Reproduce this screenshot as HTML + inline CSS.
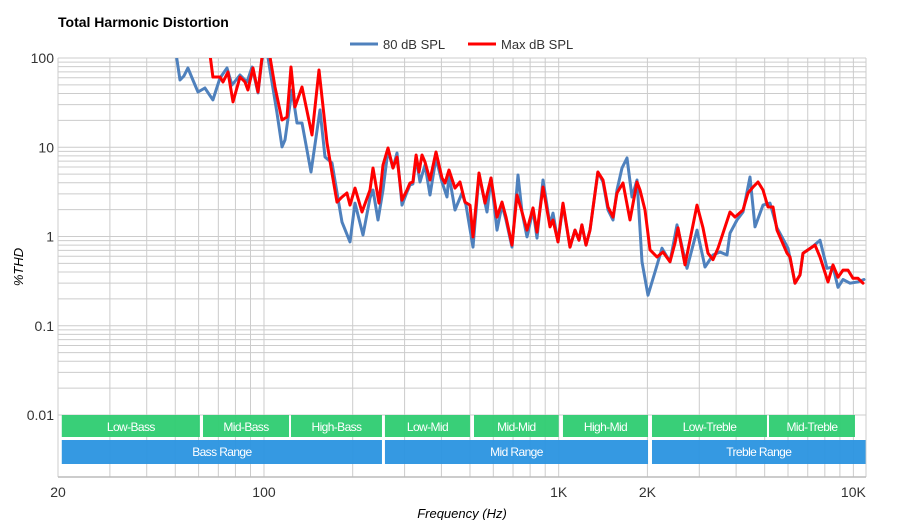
<!DOCTYPE html>
<html><head><meta charset="utf-8"><style>
html,body{margin:0;padding:0;background:#fff;}
svg{display:block;font-family:"Liberation Sans",sans-serif;}
</style></head><body>
<svg id="chart" width="900" height="520" viewBox="0 0 900 520">
<defs><clipPath id="plotclip"><rect x="58" y="58" width="808" height="419"/></clipPath></defs>
<text x="58" y="27" font-size="14" font-weight="bold" fill="#000">Total Harmonic Distortion</text>
<g>
<g><line x1="350" y1="44" x2="378" y2="44" stroke="#4f81bd" stroke-width="3"/><text x="383" y="49" font-size="13" fill="#333">80 dB SPL</text></g>
<g><line x1="468" y1="44" x2="496" y2="44" stroke="#ff0000" stroke-width="3"/><text x="501" y="49" font-size="13" fill="#333">Max dB SPL</text></g>
</g>
<g id="grid"></g>
<g id="bands"></g>
<g id="yticks"></g>
<g id="xticks"></g>
<g id="series" clip-path="url(#plotclip)"></g>
<text x="0" y="0" transform="translate(23,267) rotate(-90)" text-anchor="middle" font-size="13" font-style="italic" fill="#000">%THD</text>
<text x="462" y="518" text-anchor="middle" font-size="13" font-style="italic" fill="#000">Frequency (Hz)</text>
</svg>
<script>
const blueFreq=[49.5,51.9,53.5,55.2,57.4,59.7,63.0,67.1,70.9,74.9,
77.9,82.9,87.6,91.1,95.4,98.4,101.6,104.8,110.7,115.1,
117.8,124.5,129.4,134.6,144.4,154.9,161.1,170.1,183.9,195.8,
203.6,216.8,228.9,234.4,243.7,253.4,263.5,274.0,282.7,293.9,
305.6,312.9,320.2,328.1,338.4,351.9,365.9,383.4,401.8,417.8,
424.4,444.8,469.9,484.8,512.0,536.5,571.2,589.4,617.6,642.1,
662.5,694.3,727.7,750.8,780.6,818.1,844.1,884.6,934.4,956.6,
994.5,1034,1092,1136,1172,1199,1238,1277,1359,1414,
1470,1529,1577,1640,1705,1773,1844,1917,2010,2122,
2241,2386,2520,2725,2947,3136,3339,3527,3726,3814,
4027,4221,4460,4637,4935,5212,5506,6001,6338,6590,
6745,7236,7702,8136,8527,8867,9220,9737,10366,10864];
const blueTHD=[159,56.7,62.9,77.3,56.7,41.6,46.1,33.9,59.7,77.3,
49.8,64.5,53.9,79.3,40.6,95,140,73.4,24.2,10.1,
12.1,43.8,18.7,18.7,5.28,26.2,7.78,6.66,1.45,0.87,
2.37,1.04,2.70,3.32,1.53,3.32,9.3,5.85,8.63,2.25,
3.15,3.78,3.87,7.58,4.08,6.33,2.92,7.58,4.08,2.77,
4.89,1.98,3.07,2.25,0.76,4.89,1.88,4.52,1.18,2.25,
1.53,0.76,4.89,1.88,0.99,1.98,0.96,4.30,1.35,1.83,
0.87,2.25,0.76,1.18,0.91,1.35,0.80,1.18,5.28,4.08,
1.98,1.53,3.32,5.85,7.58,2.77,4.30,0.52,0.22,0.40,
0.74,0.52,1.35,0.44,1.18,0.455,0.62,0.67,0.62,1.09,
1.53,1.88,4.64,1.28,2.25,2.37,1.25,0.74,0.30,0.37,
0.65,0.76,0.91,0.44,0.455,0.27,0.33,0.30,0.31,0.33];
const redFreq=[64.6,67.1,70.9,72.6,75.5,78.5,82.9,86.2,88.2,91.8,
95.4,98.4,100.8,104.8,109.0,115.1,119.7,123.5,127.4,134.6,
145.5,153.7,163.6,170.1,176.9,183.9,191.2,195.8,203.6,215.1,
228.9,234.4,245.6,253.4,263.5,274.0,282.7,293.9,305.6,312.9,
320.2,328.1,335.7,343.6,351.9,365.9,383.4,401.8,411.3,424.4,
444.8,462.6,481.0,500.0,512.0,536.5,562.3,589.4,617.6,642.1,
662.5,694.3,722.0,750.8,780.6,818.1,844.1,884.6,934.4,956.6,
994.5,1034,1092,1136,1172,1199,1238,1277,1359,1414,
1470,1529,1577,1653,1746,1844,1887,1963,2041,2156,
2259,2386,2481,2540,2683,2947,3087,3210,3339,3472,
3611,3814,3966,4221,4389,4566,4747,4935,5131,5336,
5506,5955,6096,6338,6590,6745,7236,7408,7702,8200,
8527,8867,9220,9587,9970,10366,10780];
const redTHD=[159,61.3,61.3,53.9,69.7,32.2,61.3,53.9,43.8,77.3,
41.6,100,159,102.6,47.3,20.2,21.8,79.3,28.3,47.3,
13.7,73.4,11.2,5.15,2.43,2.77,3.07,2.25,3.49,1.88,
3.32,5.85,2.37,6.33,9.8,5.85,7.78,2.56,3.32,3.98,
4.08,8.19,5.28,8.19,6.83,4.30,8.85,4.52,3.98,5.56,
3.49,4.08,2.43,2.25,0.99,5.15,2.37,4.52,1.65,2.43,
1.65,0.80,2.92,1.88,1.18,2.09,1.12,3.59,1.28,1.53,
0.87,2.37,0.76,1.18,0.91,1.35,0.80,1.18,5.28,4.30,
2.14,1.65,3.07,3.98,1.53,4.08,3.32,1.98,0.71,0.59,
0.67,0.52,0.846,1.25,0.48,2.25,1.25,0.65,0.55,0.74,
1.09,1.88,1.65,1.98,3.07,3.59,4.08,3.32,2.14,2.14,
1.18,0.65,0.59,0.30,0.37,0.65,0.76,0.80,0.59,0.31,
0.48,0.35,0.42,0.42,0.34,0.34,0.30];
const yTickValues=[100,10,1,0.1,0.01];
const yTickLabels=["100","10","1","0.1","0.01"];
const xTickValues=[20,100,1000,2000,10000];
const xTickLabels=["20","100","1K","2K","10K"];
const bandNames=["Low-Bass","Mid-Bass","High-Bass","Low-Mid","Mid-Mid","High-Mid","Low-Treble","Mid-Treble"];
const bandStart=[20.6,62.1,123.5,257.3,516,1034,2073,5172];
const bandEnd=[60.6,121.6,251.4,500,1000,2010,5091,10125];
const rangeNames=["Bass Range","Mid Range","Treble Range"];
const rangeStart=[20.6,257.3,2073];
const rangeEnd=[251.4,2010,11000];

const NS="http://www.w3.org/2000/svg";
const X0=58,X1=866,PXDEC=294.7;
const Y100=58,PYDEC=89.25;
function xs(f){return X0+(Math.log10(f)-Math.log10(20))*PXDEC;}
function ys(v){return Y100+(2-Math.log10(v))*PYDEC;}
function mk(tag,attrs,parent){const e=document.createElementNS(NS,tag);for(const k in attrs)e.setAttribute(k,attrs[k]);parent.appendChild(e);return e;}

const grid=document.getElementById('grid');
const gcol="#cccccc";
for(let d=-2;d<=1;d++){for(let k=1;k<=9;k++){const v=k*Math.pow(10,d);const y=ys(v);
 const l=mk('line',{x1:X0,x2:X1,y1:y,y2:y,stroke:gcol,'stroke-width':1},grid);
 
 }}
{const l=mk('line',{x1:X0,x2:X1,y1:ys(100),y2:ys(100),stroke:gcol,'stroke-width':1},grid);
 
 }
const vf=[];for(let f=20;f<100;f+=10)vf.push(f);for(let f=100;f<1000;f+=100)vf.push(f);for(let f=1000;f<=10000;f+=1000)vf.push(f);
vf.forEach(f=>{const x=xs(f);const l=mk('line',{x1:x,x2:x,y1:58,y2:477,stroke:gcol,'stroke-width':1},grid);
 
 });
{const l=mk('line',{x1:X1,x2:X1,y1:58,y2:477,stroke:gcol,'stroke-width':1},grid);
 
 }
{const l=mk('line',{x1:X0,x2:X1,y1:477,y2:477,stroke:"#bbbbbb",'stroke-width':1.5},grid);
 
 }

const bands=document.getElementById('bands');
bandNames.forEach((n,i)=>{const x1=xs(bandStart[i]),x2=xs(bandEnd[i]);
 const g=mk('g',{},bands);
 
 
 mk('rect',{x:x1,y:415,width:x2-x1,height:22,fill:"#2ecc71",'fill-opacity':0.95},g);
 const t=mk('text',{x:(x1+x2)/2,y:431,'text-anchor':'middle','font-size':12,fill:'#fff','letter-spacing':'-0.6'},g);t.textContent=n;});
rangeNames.forEach((n,i)=>{const x1=xs(rangeStart[i]),x2=Math.min(868,xs(rangeEnd[i]));
 const g=mk('g',{},bands);
 
 
 mk('rect',{x:x1,y:440,width:x2-x1,height:24,fill:"#2a93e0",'fill-opacity':0.95},g);
 const t=mk('text',{x:(x1+x2)/2,y:456,'text-anchor':'middle','font-size':12,fill:'#fff','letter-spacing':'-0.6'},g);t.textContent=n;});

const yt=document.getElementById('yticks');
yTickValues.forEach((v,i)=>{const t=mk('text',{x:54,y:ys(v)+5,'text-anchor':'end','font-size':14,fill:'#333'},yt);t.textContent=yTickLabels[i];
 
 });
const xt=document.getElementById('xticks');
xTickValues.forEach((v,i)=>{const t=mk('text',{x:xs(v),y:497,'text-anchor':'middle','font-size':14,fill:'#333'},xt);t.textContent=xTickLabels[i];
 
 });

const series=document.getElementById('series');
function draw(fr,vals,color,name){let d='';fr.forEach((f,i)=>{d+=(i?'L':'M')+xs(f).toFixed(1)+' '+ys(vals[i]).toFixed(1);});
 const p=mk('path',{d:d,fill:'none',stroke:color,'stroke-width':3,'stroke-linejoin':'round','stroke-linecap':'round'},series);
 
 }
draw(blueFreq,blueTHD,"#4f81bd","line-80db-spl");
draw(redFreq,redTHD,"#ff0000","line-max-db-spl");
</script>
</body></html>
